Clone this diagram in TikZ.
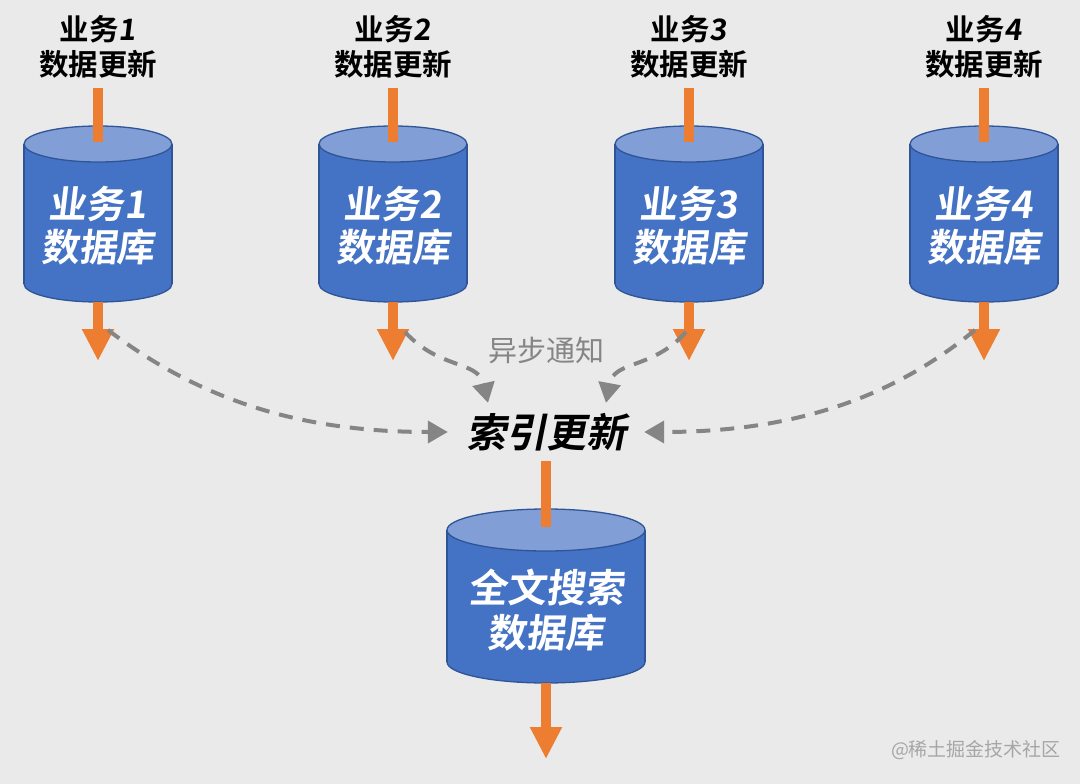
\documentclass[tikz,border=0pt]{standalone}
\usepackage{fontspec}
\newfontfamily\cjkb{Noto Sans CJK SC Bold}
\newfontfamily\cjkbi{Noto Sans CJK SC Bold}[FakeSlant=0.12]
\newfontfamily\cjkbii{Noto Sans CJK SC Bold}[FakeSlant=0.2]
\newfontfamily\cjkr{Noto Sans CJK SC}
\usetikzlibrary{arrows.meta}
\definecolor{bgc}{HTML}{EAEAEA}
\definecolor{dbblue}{HTML}{4472C4}
\definecolor{dbtop}{HTML}{819FD6}
\definecolor{dbedge}{HTML}{2F5597}
\definecolor{orng}{HTML}{ED7D31}
\definecolor{dgray}{HTML}{858585}
\newcommand\dbshape[5]{%
  \draw[dbline, fill=dbblue] (#1,#3) ellipse [x radius=#4, y radius=#5];
  \fill[dbblue] (#1-#4,#2) rectangle (#1+#4,#3);
  \draw[dbline] (#1-#4,#2) -- (#1-#4,#3) (#1+#4,#2) -- (#1+#4,#3);
  \draw[dbline, fill=dbtop] (#1,#2) ellipse [x radius=#4, y radius=#5];
}
\begin{document}
\begin{tikzpicture}[x=1pt,y=-1pt,
  dbline/.style={draw=dbedge, line width=1.3pt},
  toplabel/.style={align=center, font=\cjkb\fontsize{29.5}{35}\selectfont, text=black, inner ysep=9pt},
  dblabel/.style={align=center, font=\cjkbi\fontsize{38}{43}\selectfont, text=white},
  feed/.style={draw=orng, line width=10pt},
  feedarrow/.style={draw=orng, line width=10pt, -{Triangle[width=30pt,length=32pt]}},
  notify/.style={draw=dgray, line width=4pt, dash pattern=on 14pt off 10pt, -{Triangle[width=22pt,length=20pt]}}
]
\fill[bgc] (0,0) rectangle (1080,784);
\useasboundingbox (0,0) rectangle (1080,784);

% business databases
\foreach \i/\x in {1/98,2/393,3/689,4/984}{
  \dbshape{\x}{144}{284}{74}{18}
  \node[toplabel] (l\i) at (\x,47) {业务{\cjkbi\i}\\数据更新};
  \node[dblabel] (db\i) at (\x,226) {业务\i\\数据库};
  \coordinate (t\i) at (\x,142);
  \coordinate (b\i) at (\x,302);
  \coordinate (e\i) at (\x,361);
  \draw[feed] (l\i.south) -- (t\i);
  \draw[feedarrow] (b\i) -- (e\i);
}

% index update
\node[font=\cjkbii\fontsize{40}{44}\selectfont, inner xsep=18pt, inner ysep=10pt] (idx) at (546,432) {索引更新};
\node[font=\cjkr\fontsize{29}{34}\selectfont, text=dgray] (async) at (546,351) {异步通知};

% full-text db
\dbshape{546}{530}{662}{99}{21}
\node[dblabel, font=\cjkbi\fontsize{39}{45}\selectfont] (fts) at (546,610) {全文搜索\\数据库};
\coordinate (ftop) at (546,527);
\coordinate (fbot) at (546,683);
\coordinate (fend) at (546,759);
\draw[feed] (idx.south) -- (ftop);
\draw[feedarrow] (fbot) -- (fend);

% async notifications
\coordinate (d1) at (108,330);
\coordinate (d2) at (405,332);
\coordinate (d3) at (686,332);
\coordinate (d4) at (975,330);
\draw[notify] (d1) .. controls (200,400) and (300,432) .. (idx.west);
\draw[notify] (d2) .. controls (440,370) and (478,360) .. ([xshift=-58pt]idx.north);
\draw[notify] (d3) .. controls (652,370) and (614,360) .. ([xshift=60pt]idx.north);
\draw[notify] (d4) .. controls (890,400) and (790,432) .. (idx.east);

% watermark
\node[font=\cjkr\fontsize{19}{22}\selectfont, text=black!35] (wm) at (976,750) {@稀土掘金技术社区};
\end{tikzpicture}
\end{document}
